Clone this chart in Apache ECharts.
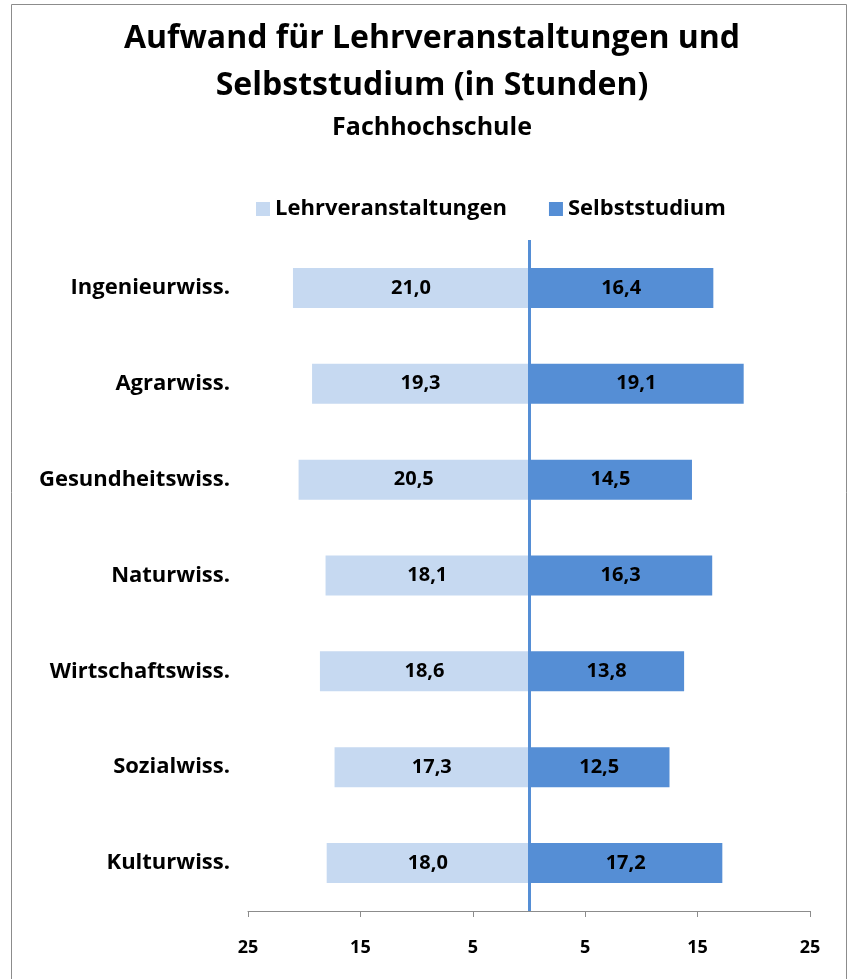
<!DOCTYPE html>
<html>
<head>
<meta charset="utf-8">
<script src="https://cdn.jsdelivr.net/npm/echarts@6/dist/echarts.min.js"></script>
<style>
  html, body { margin: 0; padding: 0; background: #fff; }
  #main { width: 850px; height: 979px; }
</style>
</head>
<body>
<div id="main"></div>
<script>
// Kategorien von oben nach unten
const categories = ['Ingenieurwiss.', 'Agrarwiss.', 'Gesundheitswiss.', 'Naturwiss.', 'Wirtschaftswiss.', 'Sozialwiss.', 'Kulturwiss.']
const lehrveranstaltungen = [21.0, 19.3, 20.5, 18.1, 18.6, 17.3, 18.0]
const selbststudium = [16.4, 19.1, 14.5, 16.3, 13.8, 12.5, 17.2]
const xTicks = [-25, -15, -5, 5, 15, 25]

const font = 'Open Sans'
const fmt = v => Math.abs(v).toFixed(1).replace('.', ',')

let myChart = echarts.init(document.getElementById('main'))
myChart.setOption({
  animation: false,
  color: ['#C6D9F1', '#558ED5'],
  textStyle: { fontFamily: font },
  graphic: [
    {
      type: 'rect',
      shape: { x: 11.5, y: 4.5, width: 835, height: 1000 },
      style: { fill: 'none', stroke: '#8c8c8c', lineWidth: 1 }
    }
  ],
  title: {
    text: 'Aufwand für Lehrveranstaltungen und\nSelbststudium (in Stunden)',
    subtext: 'Fachhochschule',
    left: 427,
    textAlign: 'center',
    top: 10,
    itemGap: 6,
    textStyle: { fontFamily: font, fontSize: 32, fontWeight: 'bold', color: '#000', lineHeight: 47 },
    subtextStyle: { fontFamily: font, fontSize: 25, fontWeight: 'bold', color: '#000' }
  },
  legend: {
    data: ['Lehrveranstaltungen', 'Selbststudium'],
    top: 193,
    left: 251,
    icon: 'rect',
    itemWidth: 14,
    itemHeight: 14,
    itemGap: 42,
    textStyle: { fontFamily: font, fontSize: 22, fontWeight: 'bold', color: '#000' }
  },
  grid: {
    left: 248,
    right: 40,
    top: 240,
    bottom: 68,
    containLabel: false
  },
  xAxis: {
    type: 'value',
    min: -25,
    max: 25,
    interval: 10,
    splitLine: { show: false },
    axisLine: { show: true, onZero: false, lineStyle: { color: '#8c8c8c' } },
    axisTick: { show: true, length: 6, lineStyle: { color: '#8c8c8c' } },
    axisLabel: {
      margin: 28,
      fontFamily: font,
      fontSize: 18,
      fontWeight: 'bold',
      color: '#000',
      formatter: v => (xTicks.includes(v) ? String(Math.abs(v)) : '')
    }
  },
  yAxis: {
    type: 'category',
    data: categories,
    inverse: true,
    axisLine: { show: false },
    axisTick: { show: false },
    axisLabel: {
      margin: 18,
      fontFamily: font,
      fontSize: 22,
      fontWeight: 'bold',
      color: '#000'
    }
  },
  series: [
    {
      name: 'Lehrveranstaltungen',
      type: 'bar',
      barWidth: 40,
      barGap: '-100%',
      data: lehrveranstaltungen.map(v => -v),
      label: {
        show: true,
        position: 'inside',
        fontFamily: font,
        fontSize: 20,
        fontWeight: 'bold',
        color: '#000',
        formatter: p => fmt(p.value)
      },
      markLine: {
        silent: true,
        symbol: 'none',
        label: { show: false },
        lineStyle: { color: '#558ED5', type: 'solid', width: 3 },
        data: [{ xAxis: 0 }]
      }
    },
    {
      name: 'Selbststudium',
      type: 'bar',
      barWidth: 40,
      data: selbststudium,
      label: {
        show: true,
        position: 'inside',
        fontFamily: font,
        fontSize: 20,
        fontWeight: 'bold',
        color: '#000',
        formatter: p => fmt(p.value)
      }
    }
  ]
})
</script>
</body>
</html>
